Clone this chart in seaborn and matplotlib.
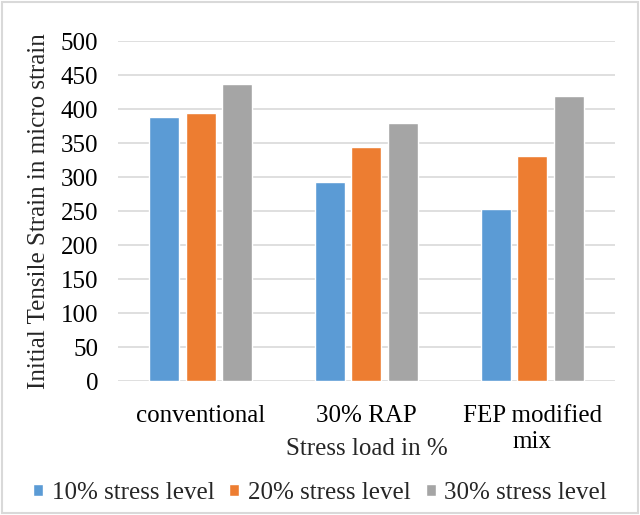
import matplotlib
matplotlib.use("Agg")
import matplotlib.pyplot as plt
from matplotlib.patches import Rectangle
import seaborn as sns
import pandas as pd

categories = ["conventional", "30% RAP", "FEP modified\nmix"]
series = ["10% stress level", "20% stress level", "30% stress level"]
strain_10 = [388, 293, 253]
strain_20 = [395, 344, 331]
strain_30 = [437, 379, 419]
colors = ["#5b9bd5", "#ed7d31", "#a5a5a5"]
yticks = [0, 50, 100, 150, 200, 250, 300, 350, 400, 450, 500]

rows = []
for s, vals in zip(series, [strain_10, strain_20, strain_30]):
    for c, v in zip(categories, vals):
        rows.append({"category": c, "series": s, "strain": v})
df = pd.DataFrame(rows)

sns.set_theme(style="white")
plt.rcParams["font.family"] = ["Liberation Serif", "DejaVu Serif"]

fig = plt.figure(figsize=(6.4, 5.15), dpi=100)
ax = fig.add_axes([0.184, 0.260, 0.777, 0.660])

sns.barplot(data=df, x="category", y="strain", hue="series",
            palette=colors, width=0.66, gap=0.18, ax=ax,
            saturation=1, legend=True)

ax.set_ylim(0, 500)
ax.set_yticks(yticks)
ax.yaxis.grid(True, color="#d9d9d9", linewidth=1.2)
ax.set_axisbelow(True)
for sp in ax.spines.values():
    sp.set_visible(False)
ax.tick_params(axis="both", length=0, labelsize=18, colors="black")
ax.tick_params(axis="y", pad=14)
ax.tick_params(axis="x", pad=17)
for lbl in ax.get_xticklabels():
    lbl.set_linespacing(1.25)
ax.set_xlabel("Stress load in %", fontsize=18)
ax.xaxis.set_label_coords(0.5, -0.167)
ax.set_ylabel("Initial Tensile Strain in micro strain", fontsize=18, labelpad=8)

handles, labels = ax.get_legend_handles_labels()
ax.legend(handles, labels, loc="center", bbox_to_anchor=(0.5, 0.043),
          bbox_transform=fig.transFigure, ncol=3, frameon=False,
          fontsize=18, handlelength=0.4, handleheight=0.4,
          handletextpad=0.35, columnspacing=0.6, borderpad=0)

fig.patches.append(Rectangle((0.003, 0.003), 0.994, 0.994, transform=fig.transFigure,
                             fill=False, edgecolor="#d9d9d9", linewidth=1.5))

fig.savefig("out.png", dpi=100)
